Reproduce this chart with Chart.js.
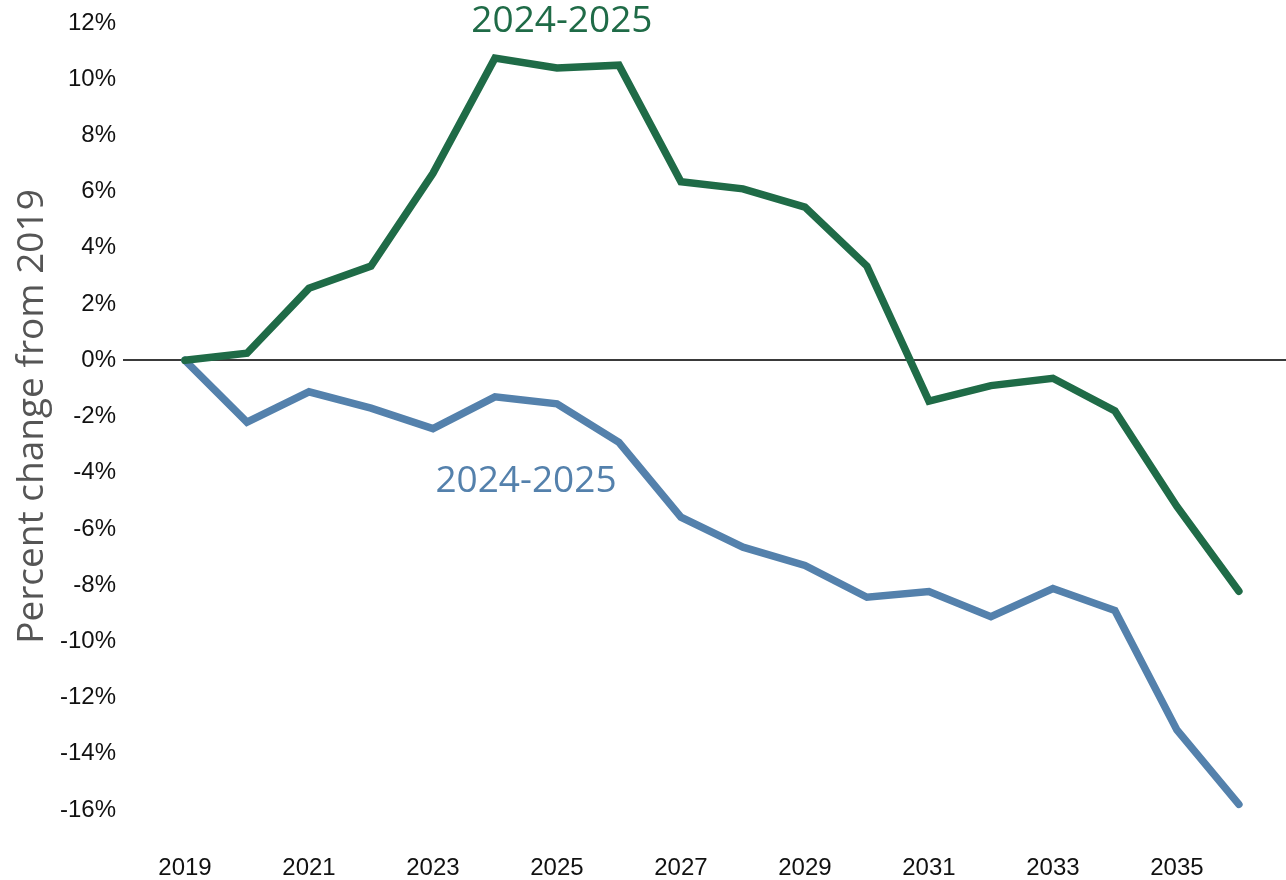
<!DOCTYPE html>
<html>
<head>
<meta charset="utf-8">
<script src="https://cdn.jsdelivr.net/npm/chart.js@4"></script>
<style>
  html, body { margin: 0; padding: 0; background: #fff; }
  #wrap { width: 1286px; height: 880px; position: relative; }
</style>
</head>
<body>
<div id="wrap"><canvas id="line-chart"></canvas></div>
<script>
// data
var years = [2019, 2020, 2021, 2022, 2023, 2024, 2025, 2026, 2027, 2028, 2029, 2030, 2031, 2032, 2033, 2034, 2035, 2036];
var greenValues = [0, 0.25, 2.56, 3.35, 6.65, 10.75, 10.4, 10.5, 6.35, 6.1, 5.45, 3.35, -1.45, -0.9, -0.64, -1.8, -5.2, -8.22];
var blueValues = [0, -2.2, -1.12, -1.7, -2.43, -1.3, -1.55, -2.92, -5.58, -6.65, -7.3, -8.43, -8.23, -9.12, -8.12, -8.9, -13.15, -15.8];
var seriesNames = ["2024-2025", "2024-2025"];
var xTickYears = [2019, 2021, 2023, 2025, 2027, 2029, 2031, 2033, 2035];
var yTickValues = [12, 10, 8, 6, 4, 2, 0, -2, -4, -6, -8, -10, -12, -14, -16];

var GREEN = '#1f6b47';
var BLUE = '#5481ac';

function toPoints(vals){
    return vals.map(function(v, i){ return { x: years[i], y: v }; });
}

// series labels written inside the plot
var seriesLabels = {
    id: 'seriesLabels',
    afterDatasetsDraw: function(chart, args, opts){
        var ctx = chart.ctx;
        var xs = chart.scales.x, ys = chart.scales.y;
        ctx.save();
        ctx.font = '37px "Open Sans", "Noto Sans", sans-serif';
        ctx.textAlign = 'center';
        ctx.textBaseline = 'middle';
        opts.items.forEach(function(it){
            ctx.fillStyle = it.color;
            ctx.fillText(it.text, xs.getPixelForValue(it.x), ys.getPixelForValue(it.y));
        });
        ctx.restore();
    }
};

var chart = new Chart(document.getElementById('line-chart'), {
    type: 'line',
    data: {
        datasets: [{
            label: seriesNames[0],
            data: toPoints(greenValues),
            borderColor: GREEN,
            borderWidth: 7.5,
            pointRadius: 0,
            borderCapStyle: 'round',
            tension: 0
        }, {
            label: seriesNames[1],
            data: toPoints(blueValues),
            borderColor: BLUE,
            borderWidth: 7.5,
            pointRadius: 0,
            borderCapStyle: 'round',
            tension: 0
        }]
    },
    options: {
        responsive: true,
        maintainAspectRatio: false,
        animation: false,
        layout: { padding: { left: 10, right: 0, top: 23, bottom: 0 } },
        plugins: {
            legend: { display: false },
            tooltip: { enabled: false },
            seriesLabels: {
                items: [
                    { text: seriesNames[0], color: GREEN, x: 2025.08, y: 12.05 },
                    { text: seriesNames[1], color: BLUE, x: 2024.5, y: -4.3 }
                ]
            }
        },
        scales: {
            x: {
                type: 'linear',
                min: 2018,
                max: 2036.76,
                grid: { display: false },
                border: { display: false },
                afterBuildTicks: function(scale){
                    scale.ticks = xTickYears.map(function(v){ return { value: v }; });
                },
                ticks: {
                    autoSkip: false,
                    maxRotation: 0,
                    padding: 36,
                    color: '#111',
                    font: { family: '"Liberation Sans", Arial, sans-serif', size: 24 },
                    callback: function(v){ return String(v); }
                },
                afterFit: function(scale){ scale.height = 70; }
            },
            y: {
                min: -16,
                max: 12,
                afterBuildTicks: function(scale){
                    scale.ticks = yTickValues.map(function(v){ return { value: v }; });
                },
                grid: {
                    drawTicks: false,
                    lineWidth: 2,
                    color: function(c){ return c.tick && c.tick.value === 0 ? '#3a3a3a' : 'rgba(0,0,0,0)'; }
                },
                border: { display: false },
                ticks: {
                    padding: 7,
                    color: '#111',
                    font: { family: '"Liberation Sans", Arial, sans-serif', size: 24 },
                    callback: function(v){ return v + '%'; }
                },
                title: {
                    display: true,
                    text: 'Percent change from 2019',
                    color: '#555',
                    padding: 0,
                    font: { family: '"Open Sans", "Noto Sans", sans-serif', size: 37 }
                },
                afterFit: function(scale){ scale.width = 113; }
            }
        }
    },
    plugins: [seriesLabels]
});
</script>
</body>
</html>
